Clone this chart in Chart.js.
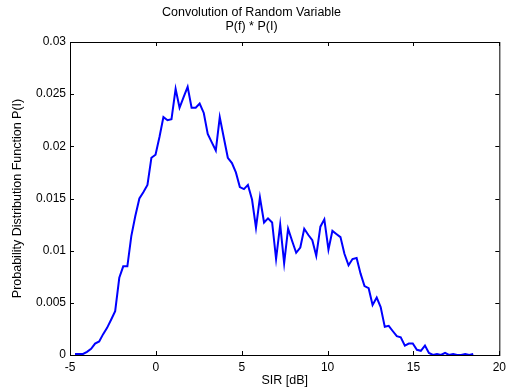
<!DOCTYPE html>
<html>
<head>
<meta charset="utf-8">
<script src="https://cdn.jsdelivr.net/npm/chart.js@4/dist/chart.umd.min.js"></script>
<style>
  html, body { margin: 0; padding: 0; background: #fff; }
  #wrap { width: 511px; height: 391px; }
</style>
</head>
<body>
<div id="wrap"><canvas id="chart-canvas"></canvas></div>
<script>
// SIR bins (dB) and estimated pdf values
var sirValues = [
  -4.71, -4.48, -4.24, -4.01, -3.77, -3.54, -3.30, -3.07, -2.84, -2.60,
  -2.37, -2.13, -1.90, -1.66, -1.43, -1.20, -0.96, -0.73, -0.49, -0.26,
  -0.02, 0.21, 0.44, 0.68, 0.91, 1.15, 1.38, 1.61, 1.85, 2.08,
  2.32, 2.55, 2.79, 3.02, 3.25, 3.49, 3.72, 3.96, 4.19, 4.43,
  4.66, 4.89, 5.13, 5.36, 5.60, 5.83, 6.06, 6.30, 6.53, 6.77,
  7.00, 7.24, 7.47, 7.70, 7.94, 8.17, 8.41, 8.64, 8.88, 9.11,
  9.34, 9.58, 9.81, 10.05, 10.28, 10.51, 10.75, 10.98, 11.22, 11.45,
  11.69, 11.92, 12.15, 12.39, 12.62, 12.86, 13.09, 13.33, 13.56, 13.79,
  14.03, 14.26, 14.50, 14.73, 14.96, 15.20, 15.43, 15.67, 15.90, 16.14,
  16.37, 16.60, 16.84, 17.07, 17.31, 17.54, 17.78, 18.01, 18.25, 18.48
];
var pdfValues = [
  0.0001, 0.0001, 0.0001, 0.0003, 0.0006, 0.0011, 0.0013, 0.0020, 0.0026, 0.0034,
  0.0042, 0.0074, 0.0085, 0.0085, 0.0114, 0.0133, 0.0150, 0.0156, 0.0163, 0.0189,
  0.0192, 0.0209, 0.0228, 0.0225, 0.0226, 0.0255, 0.0237, 0.0247, 0.0257, 0.0237,
  0.0237, 0.0241, 0.0232, 0.0212, 0.0204, 0.0196, 0.0228, 0.0208, 0.0189, 0.0184,
  0.0175, 0.0161, 0.0159, 0.0163, 0.0149, 0.0122, 0.0151, 0.0127, 0.0131, 0.0127,
  0.0092, 0.0125, 0.0088, 0.0121, 0.0109, 0.0098, 0.0103, 0.0121, 0.0115, 0.0110,
  0.0095, 0.0123, 0.0130, 0.0101, 0.0119, 0.0116, 0.0113, 0.0097, 0.0086, 0.0092,
  0.0093, 0.0078, 0.0066, 0.0064, 0.0048, 0.0055, 0.0046, 0.0027, 0.0028, 0.0023,
  0.0018, 0.0017, 0.0009, 0.0011, 0.0011, 0.0005, 0.0004, 0.0009, 0.0002, 0.0000,
  0.0001, 0.0000, 0.0002, 0.0000, 0.0001, 0.0000, 0.0000, 0.0001, 0.0000, 0.0001
];
var xTicks = [-5, 0, 5, 10, 15, 20];
var yTicks = [0, 0.005, 0.01, 0.015, 0.02, 0.025, 0.03];

var points = sirValues.map(function (x, i) { return { x: x, y: pdfValues[i] }; });

// matlab style box with inward ticks on all four sides
var boxPlugin = {
  id: 'box',
  afterDraw: function (chart) {
    var ctx = chart.ctx;
    var a = chart.chartArea;
    var sx = chart.scales.x, sy = chart.scales.y;
    ctx.save();
    ctx.strokeStyle = '#000';
    ctx.lineWidth = 1;
    ctx.strokeRect(a.left + 0.5, a.top + 0.5, a.right - a.left, a.bottom - a.top);
    ctx.beginPath();
    xTicks.forEach(function (v) {
      var px = Math.round(sx.getPixelForValue(v)) + 0.5;
      ctx.moveTo(px, a.bottom); ctx.lineTo(px, a.bottom - 4);
      ctx.moveTo(px, a.top); ctx.lineTo(px, a.top + 4);
    });
    yTicks.forEach(function (v) {
      var py = Math.round(sy.getPixelForValue(v)) + 0.5;
      ctx.moveTo(a.left, py); ctx.lineTo(a.left + 4, py);
      ctx.moveTo(a.right, py); ctx.lineTo(a.right - 4, py);
    });
    ctx.stroke();
    ctx.restore();
  }
};

Chart.defaults.font.family = "'Liberation Sans', Arial, sans-serif";
Chart.defaults.color = '#000';

var chartCanvas = new Chart(document.getElementById('chart-canvas'), {
  type: 'line',
  data: {
    datasets: [{
      data: points,
      borderColor: '#0000ff',
      borderWidth: 2,
      pointRadius: 0,
      tension: 0,
      fill: false
    }]
  },
  options: {
    responsive: true,
    maintainAspectRatio: false,
    animation: false,
    layout: { padding: { left: 0, right: 8, top: 0, bottom: 0 } },
    plugins: {
      legend: { display: false },
      tooltip: { enabled: false },
      title: {
        display: true,
        text: ['Convolution of Random Variable', 'P(f) * P(I)'],
        font: { size: 12.5, weight: 'normal', lineHeight: 1.12 },
        color: '#000',
        padding: { top: 6, bottom: 8 }
      }
    },
    scales: {
      x: {
        type: 'linear',
        min: -5,
        max: 20,
        afterBuildTicks: function (s) { s.ticks = xTicks.map(function (v) { return { value: v }; }); },
        afterFit: function (s) { s.height = 36; },
        grid: { display: false, drawTicks: false },
        border: { display: false },
        ticks: { font: { size: 12 }, padding: 5, maxRotation: 0 },
        title: { display: true, text: 'SIR [dB]', font: { size: 12.5 }, padding: { top: 2, bottom: 3 } }
      },
      y: {
        type: 'linear',
        min: 0,
        max: 0.03,
        afterBuildTicks: function (s) { s.ticks = yTicks.map(function (v) { return { value: v }; }); },
        afterFit: function (s) { s.width = 70; },
        grid: { display: false, drawTicks: false },
        border: { display: false },
        ticks: {
          font: { size: 12 },
          padding: 4,
          callback: function (v) { return String(+v.toFixed(3)); }
        },
        title: { display: true, text: 'Probability Distribution Function P(I)', font: { size: 12.5 }, padding: { top: 10, bottom: 2 } }
      }
    }
  },
  plugins: [boxPlugin]
});
</script>
</body>
</html>
